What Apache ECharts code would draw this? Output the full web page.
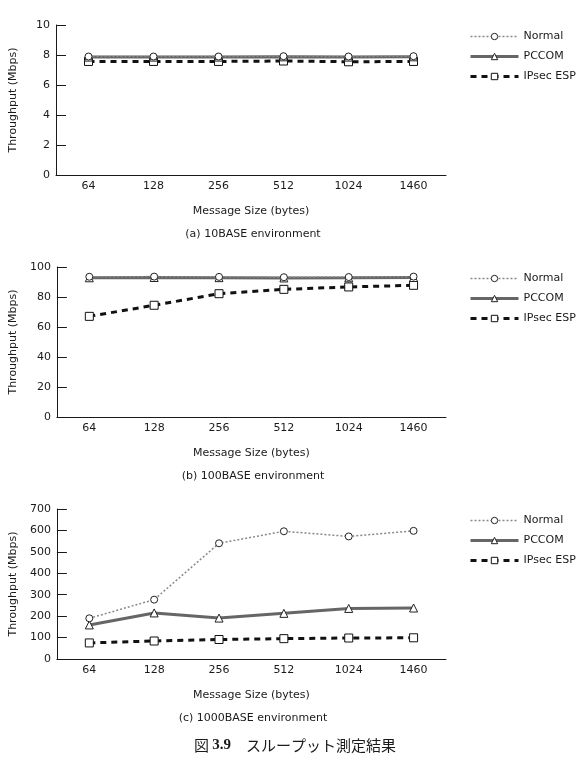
<!DOCTYPE html>
<html>
<head>
<meta charset="utf-8">
<script src="https://cdn.jsdelivr.net/npm/echarts@6/dist/echarts.min.js"></script>
<style>
  html, body { margin: 0; padding: 0; background: #fff; }
  #chart { width: 585px; height: 763px; }
</style>
</head>
<body>
<div id="chart"></div>
<script>
// message sizes (bytes)
var sizes = ['64', '128', '256', '512', '1024', '1460'];
var seriesNames = ['Normal', 'PCCOM', 'IPsec ESP'];

// (a) 10BASE
var normal10 = [7.9, 7.9, 7.9, 7.92, 7.9, 7.92];
var pccom10 = [7.86, 7.86, 7.86, 7.88, 7.86, 7.88];
var ipsec10 = [7.57, 7.57, 7.57, 7.6, 7.55, 7.57];

// (b) 100BASE
var normal100 = [93.5, 93.6, 93.4, 93.2, 93.3, 93.6];
var pccom100 = [92.8, 93.0, 92.9, 92.7, 92.8, 93.0];
var ipsec100 = [67.1, 74.5, 82.2, 85.1, 86.7, 87.8];

// (c) 1000BASE
var normal1000 = [190, 277, 540, 596, 572, 598];
var pccom1000 = [159, 215, 191, 213, 236, 238];
var ipsec1000 = [75, 84, 91, 95, 98, 99];

var yMax = [10, 100, 700];
var yStep = [2, 20, 100];
var panelTitles = ['(a) 10BASE environment', '(b) 100BASE environment', '(c) 1000BASE environment'];

var font = 'DejaVu Sans';
var gridTops = [25, 267, 509];
var gridLeft = 50, gridW = 396, gridH = 150;

var chartInstance = echarts.init(document.getElementById('chart'));

var grids = [], xAxes = [], yAxes = [], titles = [], legends = [], series = [];

var panelData = [
    [normal10, pccom10, ipsec10],
    [normal100, pccom100, ipsec100],
    [normal1000, pccom1000, ipsec1000]
];

for (var i = 0; i < 3; i++) {
    grids.push({ left: gridLeft, top: gridTops[i], width: gridW, height: gridH });
    xAxes.push({
        type: 'category',
        gridIndex: i,
        data: sizes,
        boundaryGap: true,
        name: 'Message Size (bytes)',
        nameLocation: 'middle',
        nameGap: 31,
        nameTextStyle: { fontFamily: font, fontSize: 11, color: '#1a1a1a' },
        axisLine: { lineStyle: { color: '#1a1a1a', width: 1 } },
        axisTick: { inside: true, length: 4, lineStyle: { color: '#1a1a1a' } },
        axisLabel: { fontFamily: font, fontSize: 11, color: '#1a1a1a', margin: 6 },
        splitLine: { show: false }
    });
    yAxes.push({
        type: 'value',
        gridIndex: i,
        min: 0,
        max: yMax[i],
        interval: yStep[i],
        name: 'Throughput (Mbps)',
        nameLocation: 'middle',
        nameGap: 37,
        nameTextStyle: { fontFamily: font, fontSize: 11, color: '#1a1a1a' },
        axisLine: { show: true, lineStyle: { color: '#1a1a1a', width: 1 } },
        axisTick: { show: true, inside: true, length: 10, lineStyle: { color: '#1a1a1a' } },
        axisLabel: { fontFamily: font, fontSize: 11, color: '#1a1a1a', margin: 6 },
        splitLine: { show: false }
    });
    titles.push({
        text: panelTitles[i],
        left: gridLeft + gridW / 2,
        top: gridTops[i] + 199,
        textAlign: 'center',
        textStyle: { fontFamily: font, fontSize: 11, fontWeight: 'normal', color: '#1a1a1a' }
    });
    legends.push({
        data: seriesNames,
        orient: 'vertical',
        left: 464,
        top: gridTops[i] + 1,
        itemWidth: 48,
        itemHeight: 8,
        itemGap: 9,
        lineStyle: { width: 'inherit' },
        itemStyle: { borderWidth: 1 },
        textStyle: { fontFamily: font, fontSize: 11, color: '#1a1a1a' },
        selectedMode: false
    });

    var d = panelData[i];
    series.push({
        name: 'IPsec ESP', type: 'line', xAxisIndex: i, yAxisIndex: i, data: d[2],
        symbol: 'rect', symbolSize: 8,
        lineStyle: { color: '#111', width: 3, type: [6, 5] },
        itemStyle: { color: '#fff', borderColor: '#111', borderWidth: 1 },
        z: 2
    });
    series.push({
        name: 'PCCOM', type: 'line', xAxisIndex: i, yAxisIndex: i, data: d[1],
        symbol: 'triangle', symbolSize: 8,
        lineStyle: { color: '#666', width: 3 },
        itemStyle: { color: '#fff', borderColor: '#222', borderWidth: 1 },
        z: 3
    });
    series.push({
        name: 'Normal', type: 'line', xAxisIndex: i, yAxisIndex: i, data: d[0],
        symbol: 'circle', symbolSize: 7,
        lineStyle: { color: '#888', width: 1.5, type: [2, 2] },
        itemStyle: { color: '#fff', borderColor: '#222', borderWidth: 1 },
        z: 4
    });
}

titles.push({
    text: '{a|図 }{b|3.9}{c|　スループット測定結果}',
    left: 290,
    top: 733,
    textAlign: 'center',
    textStyle: {
        fontWeight: 'normal',
        rich: {
            a: { fontFamily: 'Noto Sans CJK JP', fontSize: 15, fontWeight: 'normal', color: '#1a1a1a' },
            b: { fontFamily: 'Liberation Serif', fontSize: 15, fontWeight: 'bold', color: '#1a1a1a' },
            c: { fontFamily: 'Noto Sans CJK JP', fontSize: 15, fontWeight: 'normal', color: '#1a1a1a' }
        }
    }
});

var option = {
    animation: false,
    backgroundColor: '#fff',
    title: titles,
    legend: legends,
    grid: grids,
    xAxis: xAxes,
    yAxis: yAxes,
    series: series
};
chartInstance.setOption(option);
</script>
</body>
</html>
